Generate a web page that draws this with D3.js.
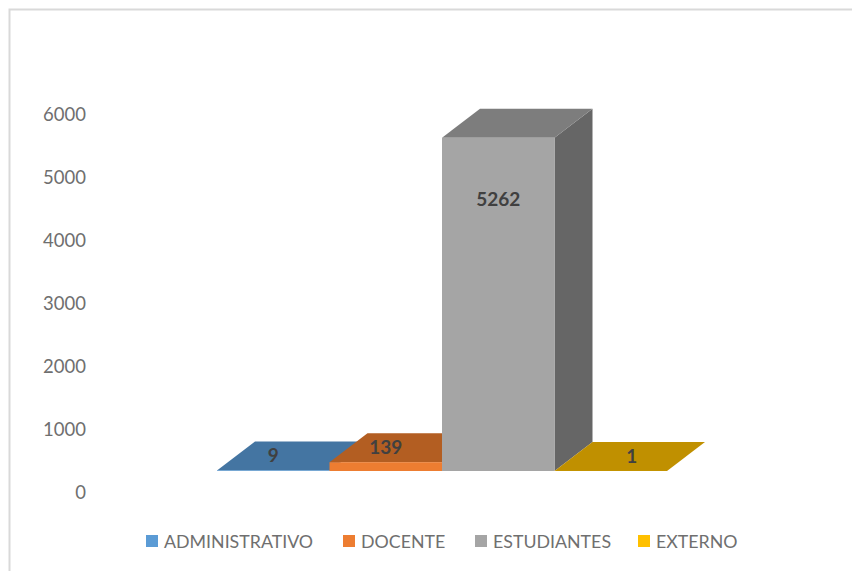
<!DOCTYPE html>
<html>
<head>
<meta charset="utf-8">
<script src="https://cdnjs.cloudflare.com/ajax/libs/d3/7.8.5/d3.min.js"></script>
<style>
  html, body { margin: 0; padding: 0; background: #fff; }
  svg { display: block; }
</style>
</head>
<body>
<div id="chart"></div>
<script>
const categories = ["ADMINISTRATIVO", "DOCENTE", "ESTUDIANTES", "EXTERNO"];
const values = [9, 139, 5262, 1];
const ticks = [0, 1000, 2000, 3000, 4000, 5000, 6000];

const frontColors = ["#5b9bd5", "#ed7d31", "#a5a5a5", "#ffc000"];
const topColors = ["#4475a2", "#b35e22", "#7d7d7d", "#c09000"];
const sideColors = ["#3e6a93", "#a05420", "#666666", "#ad8200"];

const width = 852, height = 571;
const depthX = 38, depthY = 29;

const svg = d3.select("#chart").append("svg")
    .attr("width", width)
    .attr("height", height);

const fontFamily = "Lato, sans-serif";

// chart frame, only left and top edges are in the crop
svg.append("path")
    .attr("d", "M9.5,571V9.5H852")
    .attr("fill", "none")
    .attr("stroke", "#d9d9d9")
    .attr("stroke-width", 2);

// axis labels sit lower than the bars because of the 3d floor
const yAxisScale = d3.scaleLinear().domain([0, 6000]).range([492.5, 114.5]);
const yBar = d3.scaleLinear().domain([0, 6000]).range([471, 91]);
const xBand = d3.scaleBand().domain(categories).range([217, 667]);

const axis = d3.axisLeft(yAxisScale).tickValues(ticks).tickSize(0).tickPadding(0).tickFormat(d3.format("d"));
const axisG = svg.append("g")
    .attr("transform", "translate(86,0)")
    .call(axis);
axisG.select(".domain").remove();
axisG.selectAll("text")
    .attr("font-family", fontFamily)
    .attr("font-size", 18.5)
    .attr("fill", "#6f6f6f");

const rows = categories.map((c, i) => ({name: c, value: values[i], i: i}));

const bars = svg.append("g").selectAll("g")
    .data(rows)
    .join("g");

function corners(d) {
    let x0 = xBand(d.name), x1 = x0 + xBand.bandwidth();
    return {x0, x1, y0: yBar(0), y1: yBar(d.value)};
}

// side face
bars.append("path")
    .attr("fill", d => sideColors[d.i])
    .attr("d", d => {
        let c = corners(d);
        return `M${c.x1},${c.y0}L${c.x1 + depthX},${c.y0 - depthY}L${c.x1 + depthX},${c.y1 - depthY}L${c.x1},${c.y1}Z`;
    });

// top face
bars.append("path")
    .attr("fill", d => topColors[d.i])
    .attr("d", d => {
        let c = corners(d);
        return `M${c.x0},${c.y1}L${c.x0 + depthX},${c.y1 - depthY}L${c.x1 + depthX},${c.y1 - depthY}L${c.x1},${c.y1}Z`;
    });

// front face
bars.append("rect")
    .attr("x", d => xBand(d.name))
    .attr("y", d => yBar(d.value))
    .attr("width", xBand.bandwidth())
    .attr("height", d => yBar(0) - yBar(d.value))
    .attr("fill", d => frontColors[d.i]);

// value labels: small bars have it on the top face, the tall one on the front
const labelShift = [0, 0, 0, 21];
svg.append("g").selectAll("text")
    .data(rows)
    .join("text")
    .attr("x", d => xBand(d.name) + xBand.bandwidth() / 2 + labelShift[d.i])
    .attr("y", d => d.value > 1000 ? yBar(d.value) + 62 : yBar(d.value) - 15)
    .attr("dy", "0.35em")
    .attr("text-anchor", "middle")
    .attr("font-family", fontFamily)
    .attr("font-size", 19)
    .attr("font-weight", 700)
    .attr("fill", "#404040")
    .text(d => d.value);

// legend
const legendX = [146, 343, 475, 638];
const legend = svg.append("g").selectAll("g")
    .data(rows)
    .join("g")
    .attr("transform", d => `translate(${legendX[d.i]},541)`);

legend.append("rect")
    .attr("x", 0)
    .attr("y", -6)
    .attr("width", 12)
    .attr("height", 12)
    .attr("fill", d => frontColors[d.i]);

legend.append("text")
    .attr("x", 18)
    .attr("y", 1)
    .attr("dy", "0.35em")
    .attr("font-family", fontFamily)
    .attr("font-size", 17.8)
    .attr("fill", "#6f6f6f")
    .text(d => d.name);
</script>
</body>
</html>
